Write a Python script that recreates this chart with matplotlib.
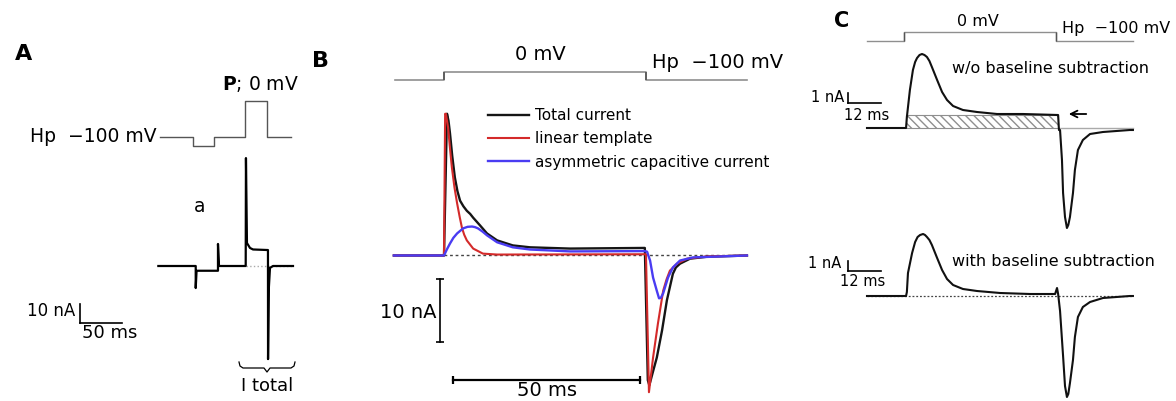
import matplotlib.pyplot as plt
import numpy as np

W, H = 1176, 401

# ---- panel A : step protocol (ms, mV) and total current (ms, nA)
A_PROT_T = [-102, -63, -63, -38, -38, -1, -1, 25, 25, 54]
A_PROT_V = [-100, -100, -125, -125, -100, -100, 0, 0, -100, -100]
A_T = [-104, -59.5, -59.5, -58.5, -33.0, -33.0, -31.8, 0, 0.3, 1.5, 5.1, 8.7, 26.5,
       26.6, 27.5, 28.9, 32.5, 56.3]
A_I = [0, 0, -11.6, -2.5, -2.5, 11.6, 0, 0, 56.8, 12.1, 9.5, 8.7, 8.4,
       -49.0, -12.0, -1.0, 0, 0]

# ---- panel B : protocol and the three currents
B_PROT_T = [-13, 0, 0, 54, 54, 81]
B_PROT_V = [-100, -100, 0, 0, -100, -100]
B_T_TOTAL = [-13.4, 0, 0.8, 1.2, 1.6, 2.2, 2.9, 3.6, 4.3, 5.2, 6.1, 7.0, 7.8, 9.6,
             11.5, 14.2, 18.4, 23, 33.7, 53.7, 54.5, 54.9, 55.8, 56.9, 58.3, 59.6,
             61.2, 62.0, 63.1, 65.8, 70.3, 81]
B_I_TOTAL = [0, 0, 22.5, 21.4, 19.4, 15.8, 12.4, 10.2, 8.7, 7.8, 7.1, 6.6, 6.0, 4.8,
             3.5, 2.4, 1.6, 1.3, 1.1, 1.2, -19.8, -20.6, -18.6, -16.2, -11.9, -7.1,
             -2.9, -1.9, -1.3, -0.5, -0.2, 0]
B_T_LIN = [-13.4, 0, 0.3, 0.5, 1.1, 1.6, 2.1, 2.8, 3.5, 4.2, 4.8, 5.4, 6.1, 7.8,
           10.4, 14.2, 53.7, 54.0, 54.8, 55.9, 57.2, 58.6, 59.5, 60.4, 62.3, 65.0,
           70.3, 81]
B_I_LIN = [0, 0, 22.5, 22.5, 20.3, 17.0, 14.0, 10.8, 8.3, 6.1, 4.4, 3.3, 2.4, 1.1,
           0.3, 0.15, 0.2, 0.2, -21.7, -16.2, -10.8, -5.6, -3.8, -2.4, -1.3, -0.5,
           -0.15, 0]
B_T_ASYM = [-13.4, 0, 0.8, 1.6, 2.5, 3.5, 5.1, 6.3, 7.5, 8.3, 9.1, 10.3, 11.5, 14.2,
            18.4, 23, 33.7, 53.7, 54.3, 55.1, 55.9, 56.9, 57.5, 58.0, 58.6, 59.9,
            61.2, 63.1, 66.6, 81]
B_I_ASYM = [0, 0, 1.0, 1.9, 2.8, 3.5, 4.3, 4.55, 4.6, 4.5, 4.3, 3.8, 3.2, 2.1,
            1.3, 0.95, 0.65, 0.7, 0.6, -0.8, -3.5, -5.6, -6.8, -6.7, -6.0, -3.5,
            -1.9, -0.8, -0.3, 0]
B_LABELS = ['Total current', 'linear template', 'asymmetric capacitive current']

# ---- panel C : protocol, raw and baseline-subtracted currents
C_PROT_T = [-14, -0.5, -0.5, 54.7, 54.7, 82.7]
C_PROT_V = [-100, -100, 0, 0, -100, -100]
C_T_RAW = [-14.0, 0.2, 0.5, 1.6, 2.7, 3.5, 4.2, 5.1, 6.0, 6.9, 7.8, 8.7, 9.6, 11.5,
           13.3, 15.1, 17.3, 20.9, 26.0, 33.3, 42.7, 55.5, 55.8, 56.2, 56.9, 57.3,
           58.0, 58.7, 59.2, 59.8, 60.9, 61.6, 62.7, 64.5, 67.1, 71.8, 81.6, 82.7]
C_I_RAW = [0, 0, 1.1, 3.8, 5.8, 6.6, 7.0, 7.3, 7.4, 7.3, 7.1, 6.7, 6.1, 4.8,
           3.6, 2.8, 2.2, 1.8, 1.6, 1.4, 1.4, 1.3, -0.2, -0.2, -3.2, -6.5,
           -8.9, -10.0, -9.7, -8.9, -6.5, -4.2, -2.2, -1.2, -0.6, -0.4, -0.2, -0.2]
C_T_SUB = [-14.0, 0.2, 0.5, 0.9, 2.4, 3.5, 4.4, 5.3, 6.4, 7.1, 7.8, 8.7, 9.6, 11.5,
           13.3, 15.1, 17.3, 20.9, 26.0, 34.4, 45.3, 54.4, 55.1, 55.5, 56.2, 57.3,
           58.0, 58.7, 59.2, 59.8, 60.9, 61.6, 62.7, 64.5, 67.1, 71.8, 81.6, 82.7]
C_I_SUB = [0, 0, 0.4, 2.3, 4.3, 5.4, 5.9, 6.1, 6.2, 6.1, 5.9, 5.6, 5.1, 3.8,
           2.6, 1.7, 1.1, 0.7, 0.5, 0.3, 0.2, 0.2, 0.8, 0.2, -1.5, -6.0,
           -9.0, -10.1, -9.8, -8.7, -6.4, -4.1, -2.1, -1.1, -0.6, -0.2, 0, 0]
C_PLATEAU = 1.3


def panel_axes(fig, x0, y0, sx, sy):
    # transparent axes over the whole figure, x0/y0 = pixel of the data origin
    ax = fig.add_axes([0, 0, 1, 1])
    ax.set_xlim(-x0 / sx, (W - x0) / sx)
    ax.set_ylim((y0 - H) / sy, y0 / sy)
    ax.axis('off')
    ax.patch.set_alpha(0)
    return ax


def scalebar(ax, t, i, dt, di, caps=False, lw=1.2):
    if dt:
        ax.plot([t, t + dt], [i, i], color='k', lw=lw,
                marker='|' if caps else None, ms=6, mew=lw)
    if di:
        ax.plot([t, t], [i, i + di], color='k', lw=lw,
                marker='_' if caps else None, ms=6, mew=lw)


fig = plt.figure(figsize=(W / 100, H / 100), dpi=100)
ax0 = fig.add_axes([0, 0, 1, 1])
ax0.set_xlim(0, W)
ax0.set_ylim(H, 0)
ax0.axis('off')

grey = '#8f8f8f'

# ================= A
av = panel_axes(fig, 245.7, 101, 0.84, 0.36)
av.plot(A_PROT_T, A_PROT_V, color='#555555', lw=1.0)
aa = panel_axes(fig, 245.7, 266, 0.84, 1.9)
aa.plot([0, 56], [0, 0], color='#aaaaaa', lw=1, ls=':')
aa.plot(A_T, A_I, color='k', lw=1.6)
scalebar(aa, -197, -30, 50, 10)

ax0.text(24, 54, 'A', fontsize=16, fontweight='bold', ha='center', va='center')
ax0.text(157, 136, 'Hp  \u2212100 mV', fontsize=13.5, ha='right', va='center')
ax0.text(260, 84, r'$\bf{P}$; 0 mV', fontsize=13.5, ha='center', va='center')
ax0.text(200, 206, 'a', fontsize=13.5, ha='center', va='center')
ax0.text(51, 311, '10 nA', fontsize=12, ha='center', va='center')
ax0.text(110, 333, '50 ms', fontsize=13, ha='center', va='center')
ax0.plot([239, 240, 243, 264, 267, 270, 291, 294, 295],
         [362, 366, 368, 368, 372, 368, 368, 366, 362], color='k', lw=0.9)
ax0.text(267, 386, 'I total', fontsize=13, ha='center', va='center')

# ================= B
bv = panel_axes(fig, 444, 72, 3.74, 0.08)
bv.plot(B_PROT_T, B_PROT_V, color=grey, lw=1.2)
bv.vlines([B_PROT_T[1], B_PROT_T[3]], -100, 0, color='#555555', lw=1.2)
bb = panel_axes(fig, 444, 255.5, 3.74, 6.3)
bb.plot([0, 80], [0, 0], color='#444444', lw=1, ls=(0, (2, 2)), zorder=1)
bb.plot(B_T_TOTAL, B_I_TOTAL, color='#151515', lw=1.7, label=B_LABELS[0])
bb.plot(B_T_LIN, B_I_LIN, color='#d42a2a', lw=1.5, label=B_LABELS[1])
bb.plot(B_T_ASYM, B_I_ASYM, color='#4a3cf2', lw=1.7, label=B_LABELS[2])
scalebar(bb, -1.1, -13.8, 0, 10, caps=True)
scalebar(bb, 2.4, -19.8, 50, 0, caps=True, lw=1.6)
bb.legend(frameon=False, loc='upper left', bbox_to_anchor=(488 / W, 1 - 108 / H),
          bbox_transform=fig.transFigure, fontsize=11, handlelength=2.7,
          handletextpad=0.4, labelspacing=0.55, borderpad=0, borderaxespad=0)

ax0.text(320, 61, 'B', fontsize=16, fontweight='bold', ha='center', va='center')
ax0.text(540, 55, '0 mV', fontsize=14, ha='center', va='center')
ax0.text(718, 63, 'Hp  \u2212100 mV', fontsize=14, ha='center', va='center')
ax0.text(408, 312, '10 nA', fontsize=14, ha='center', va='center')
ax0.text(547, 391, '50 ms', fontsize=14, ha='center', va='center')

# ================= C
cv = panel_axes(fig, 905.5, 32, 2.75, 0.09)
cv.plot(C_PROT_T, C_PROT_V, color=grey, lw=1.0)
cv.vlines([C_PROT_T[1], C_PROT_T[3]], -100, 0, color='#555555', lw=1.0)
c1 = panel_axes(fig, 905.5, 128, 2.75, 10)
c1.fill_between([0.2, 55.5], 0, C_PLATEAU, facecolor='none', edgecolor=grey,
                hatch='\\\\\\\\', lw=0.8)
c1.plot([55.8, 82.7], [0, 0], color='#aaaaaa', lw=1)
c1.plot(C_T_RAW, C_I_RAW, color='#111111', lw=1.5)
scalebar(c1, -20.9, 2.5, 12, 1)
c2 = panel_axes(fig, 905.5, 296, 2.75, 10)
c2.plot([-14, 82.7], [0, 0], color='#444444', lw=0.9, ls=(0, (1.5, 1.5)))
c2.plot(C_T_SUB, C_I_SUB, color='#111111', lw=1.5)
scalebar(c2, -20.9, 2.5, 12, 1)

ax0.text(842, 21, 'C', fontsize=15, fontweight='bold', ha='center', va='center')
ax0.text(978, 22, '0 mV', fontsize=11.5, ha='center', va='center')
ax0.text(1116, 28, 'Hp  \u2212100 mV', fontsize=11.5, ha='center', va='center')
ax0.text(1050, 68, 'w/o baseline subtraction', fontsize=11.5, ha='center', va='center')
ax0.text(1053, 262, 'with baseline subtraction', fontsize=11.5, ha='center', va='center')
ax0.text(828, 97, '1 nA', fontsize=10.5, ha='center', va='center')
ax0.text(867, 116, '12 ms', fontsize=10.5, ha='center', va='center')
ax0.text(825, 263, '1 nA', fontsize=10.5, ha='center', va='center')
ax0.text(863, 282, '12 ms', fontsize=10.5, ha='center', va='center')
ax0.annotate('', xy=(1066, 114), xytext=(1089, 114),
             arrowprops=dict(arrowstyle='->', lw=1.3, color='k', mutation_scale=12))

fig.savefig('out.png', dpi=100)
